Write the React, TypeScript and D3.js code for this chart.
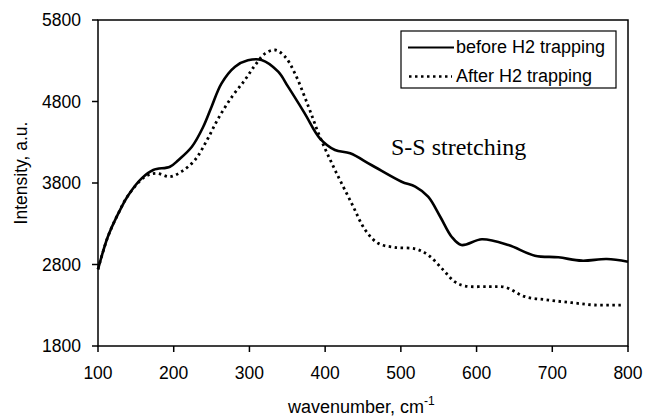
import React from "react";
import * as d3 from "d3";

const xBefore = [100, 113, 127, 140, 158, 173, 195, 206, 224, 239, 250, 263, 281, 298, 316, 338, 351, 373, 393, 413, 433, 461, 501, 519, 536, 552, 567, 580, 607, 642, 677, 708, 739, 772, 800];
const before = [2740, 3140, 3430, 3650, 3860, 3960, 4000, 4080, 4245, 4490, 4736, 5020, 5227, 5305, 5310, 5166, 4982, 4655, 4348, 4205, 4164, 4021, 3816, 3755, 3632, 3386, 3141, 3039, 3109, 3039, 2908, 2888, 2847, 2867, 2834];

const xAfter = [100, 113, 127, 140, 162, 177, 195, 210, 228, 244, 259, 277, 294, 307, 321, 334, 347, 360, 378, 393, 413, 435, 453, 470, 492, 520, 536, 556, 571, 585, 615, 638, 664, 695, 726, 756, 795];
const after = [2740, 3140, 3430, 3650, 3877, 3919, 3877, 3939, 4082, 4327, 4594, 4859, 5064, 5240, 5391, 5432, 5350, 5146, 4736, 4368, 3960, 3551, 3223, 3060, 3011, 2990, 2917, 2733, 2589, 2536, 2528, 2520, 2405, 2364, 2331, 2303, 2303];

const xTicks = [100, 200, 300, 400, 500, 600, 700, 800];
const yTicks = [1800, 2800, 3800, 4800, 5800];
const legendLabels = ["before H2 trapping", "After H2 trapping"];
const annotation = "S-S stretching";

export default function App() {
  const W = 645, H = 416;
  const left = 98, right = 628, top = 20, bottom = 346;
  const x = d3.scaleLinear().domain([100, 800]).range([left, right]);
  const y = d3.scaleLinear().domain([1800, 5800]).range([bottom, top]);
  const line = d3
    .line<[number, number]>()
    .x((d) => x(d[0]))
    .y((d) => y(d[1]))
    .curve(d3.curveCatmullRom.alpha(0.5));
  const pathBefore = line(xBefore.map((v, i) => [v, before[i]]) as [number, number][]) || "";
  const pathAfter = line(xAfter.map((v, i) => [v, after[i]]) as [number, number][]) || "";
  const sans = "'Liberation Sans', Arial, sans-serif";
  const fs = 17.5;

  return (
    <svg width={W} height={H} style={{ position: "absolute", left: 0, top: 0, background: "#fff" }}>
      <rect x={0} y={0} width={W} height={H} fill="#fff" />
      {/* frame */}
      <rect x={left} y={top} width={right - left} height={bottom - top} fill="none" stroke="#000" strokeWidth={1.5} />
      {/* y ticks */}
      {yTicks.map((t) => (
        <g key={"y" + t}>
          <line x1={left - 6} x2={left} y1={y(t)} y2={y(t)} stroke="#000" strokeWidth={1.5} />
          <text x={81} y={y(t)} dy="0.36em" textAnchor="end" fontFamily={sans} fontSize={fs} fill="#000">
            {t}
          </text>
        </g>
      ))}
      {/* x ticks */}
      {xTicks.map((t) => (
        <g key={"x" + t}>
          <line x1={x(t)} x2={x(t)} y1={bottom} y2={bottom + 6} stroke="#000" strokeWidth={1.5} />
          <text x={x(t)} y={379} textAnchor="middle" fontFamily={sans} fontSize={fs} fill="#000">
            {t}
          </text>
        </g>
      ))}
      {/* curves */}
      <path d={pathBefore} fill="none" stroke="#000" strokeWidth={2.6} strokeLinejoin="round" />
      <path d={pathAfter} fill="none" stroke="#000" strokeWidth={2.8} strokeDasharray="2.5 3.5" />
      {/* legend */}
      <rect x={401} y={31} width={215} height={57} fill="#fff" stroke="#000" strokeWidth={1.2} />
      <line x1={408} x2={454} y1={47.5} y2={47.5} stroke="#000" strokeWidth={2} />
      <text x={456} y={53} fontFamily={sans} fontSize={18} fill="#000">{legendLabels[0]}</text>
      <line x1={409} x2={452} y1={76.5} y2={76.5} stroke="#000" strokeWidth={2.4} strokeDasharray="2.5 3.5" />
      <text x={456} y={82} fontFamily={sans} fontSize={18} fill="#000">{legendLabels[1]}</text>
      {/* annotation */}
      <text x={391} y={155} fontFamily="'Liberation Serif', 'Times New Roman', serif" fontSize={24} fill="#000">
        {annotation}
      </text>
      {/* axis titles */}
      <text x={288} y={413} fontFamily={sans} fontSize={18} fill="#000">
        wavenumber, cm
        <tspan dy={-8} fontSize={12}>-1</tspan>
      </text>
      <text
        transform={`translate(27,173) rotate(-90)`}
        textAnchor="middle"
        fontFamily={sans}
        fontSize={fs}
        fill="#000"
      >
        Intensity, a.u.
      </text>
    </svg>
  );
}
